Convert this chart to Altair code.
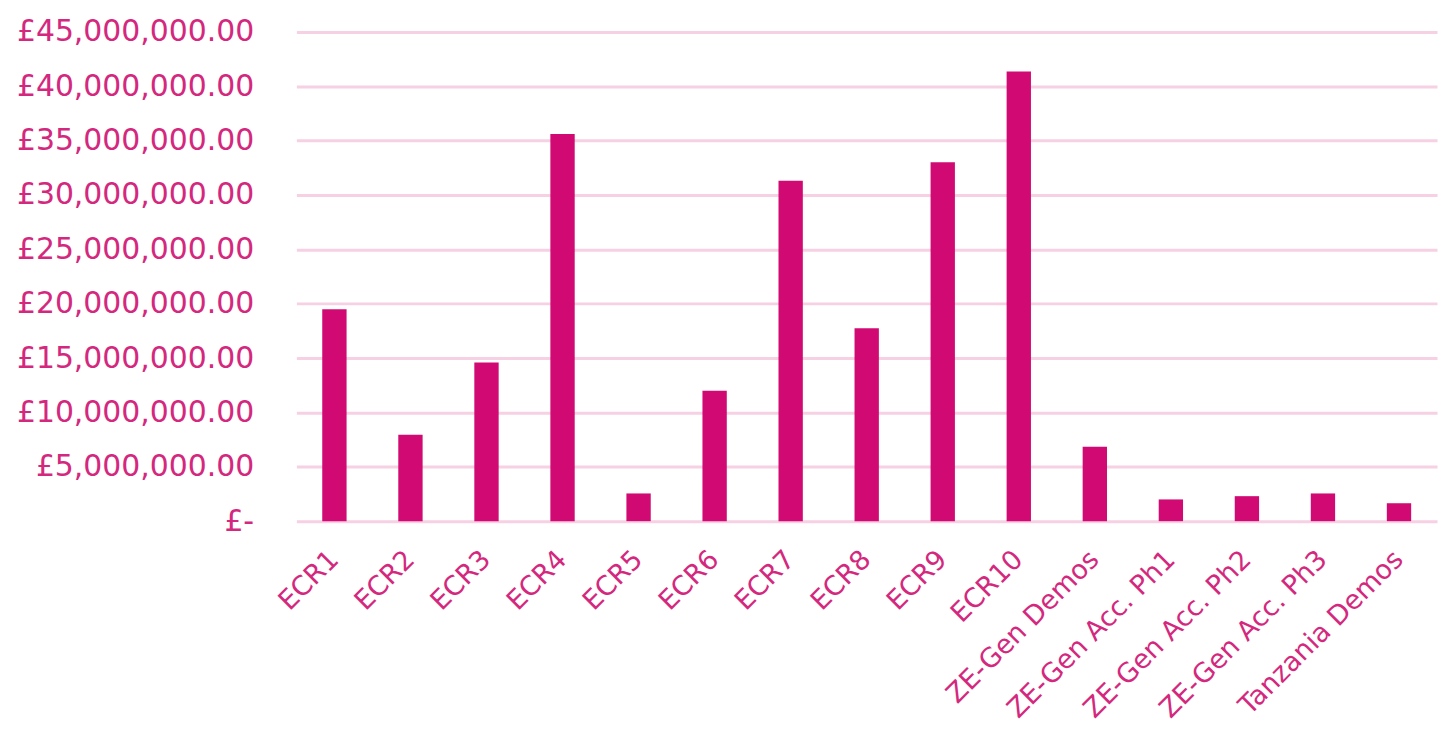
import altair as alt
import pandas as pd

categories = ["ECR1", "ECR2", "ECR3", "ECR4", "ECR5", "ECR6", "ECR7", "ECR8",
              "ECR9", "ECR10", "ZE-Gen Demos", "ZE-Gen Acc. Ph1",
              "ZE-Gen Acc. Ph2", "ZE-Gen Acc. Ph3", "Tanzania Demos"]
values = [19500000, 7950000, 14600000, 35600000, 2550000, 12000000,
          31300000, 17750000, 33000000, 41350000, 6850000, 2000000,
          2300000, 2550000, 1650000]
y_ticks = [0, 5000000, 10000000, 15000000, 20000000, 25000000, 30000000,
           35000000, 40000000, 45000000]

df = pd.DataFrame({"cat": categories, "val": values})

PINK = "#D10A73"
TEXT = "#D4287E"
GRID = "#F6D0E3"

chart = alt.Chart(df).mark_bar(color=PINK).encode(
    x=alt.X("cat:N", sort=categories, title=None,
            scale=alt.Scale(paddingInner=0.68, paddingOuter=0.34),
            axis=alt.Axis(labelAngle=315, labelAlign="right", labelBaseline="middle",
                          labelPadding=34, ticks=False, domain=False,
                          labelFont="DejaVu Sans", labelFontSize=27, labelLimit=1000,
                          labelColor=TEXT, labelOverlap=False)),
    y=alt.Y("val:Q", title=None,
            scale=alt.Scale(domain=[0, 45000000], nice=False),
            axis=alt.Axis(values=y_ticks, ticks=False, domain=False,
                          labelExpr="datum.value == 0 ? '£-' : '£' + format(datum.value, ',.2f')",
                          labelFont="DejaVu Sans", labelFontSize=30, labelLimit=1000,
                          labelColor=TEXT, labelPadding=43,
                          grid=True, gridColor=GRID, gridWidth=3)),
).properties(
    width=1147, height=492,
    autosize=alt.AutoSizeParams(type="none"),
    padding={"left": 290, "top": 22, "right": 3, "bottom": 215},
).configure_view(stroke=None)

chart.save("out.html", embed_options={"renderer": "svg", "actions": False})
